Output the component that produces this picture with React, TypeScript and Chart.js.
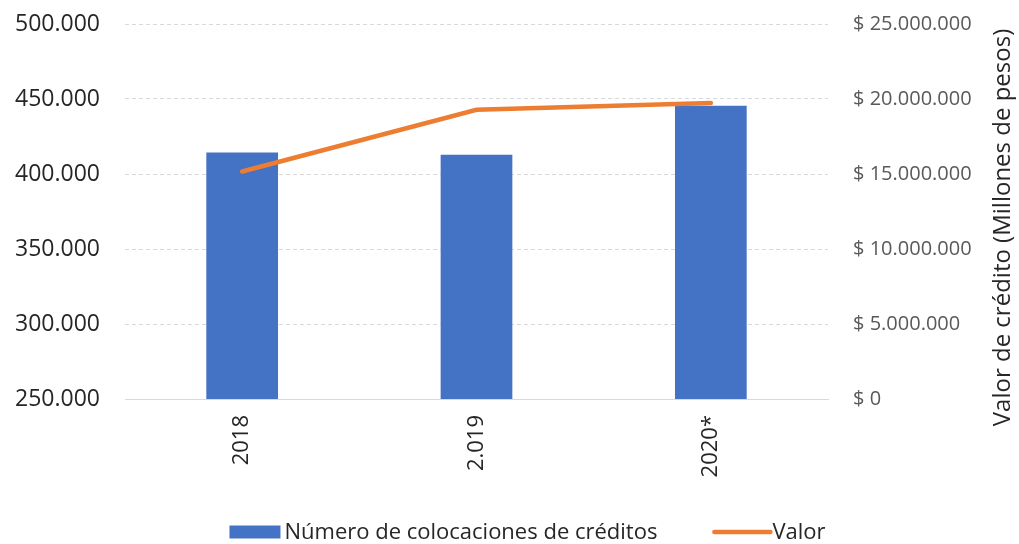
import React, { useEffect, useRef } from 'react';
import { Chart, registerables } from 'chart.js';

Chart.register(...registerables);

const categories: string[] = ['2018', '2.019', '2020*'];
const colocaciones: number[] = [414400, 412900, 445500];
const valor: number[] = [15170000, 19280000, 19730000];
const leftMin = 250000;
const leftMax = 500000;
const leftStep = 50000;
const rightMin = 0;
const rightMax = 25000000;
const rightStep = 5000000;
const barLabel = 'Número de colocaciones de créditos';
const lineLabel = 'Valor';
const rightTitle = 'Valor de crédito (Millones de pesos)';

const BLUE = '#4472C4';
const ORANGE = '#ED7D31';
const FONT = "'Open Sans', 'Noto Sans', sans-serif";
const TEXT = '#262626';

function fmt(n: number): string {
  return Math.round(n).toString().replace(/\B(?=(\d{3})+(?!\d))/g, '.');
}

const rightTitlePlugin = {
  id: 'rightTitle',
  afterDraw(chart: any) {
    const { ctx, chartArea } = chart;
    ctx.save();
    ctx.font = `24px ${FONT}`;
    ctx.fillStyle = TEXT;
    ctx.textAlign = 'center';
    ctx.textBaseline = 'middle';
    ctx.translate(chart.width - 16, (chartArea.top + chartArea.bottom) / 2 + 16);
    ctx.rotate(-Math.PI / 2);
    ctx.fillText(rightTitle, 0, 0);
    ctx.restore();
  },
};

// Excel-style legend: filled box for the bars, short thick line for the line series
const excelLegendPlugin = {
  id: 'excelLegend',
  afterDraw(chart: any) {
    const { ctx } = chart;
    const ds = chart.data.datasets;
    const bar = ds.find((d: any) => d.type === 'bar');
    const line = ds.find((d: any) => d.type === 'line');
    ctx.save();
    ctx.font = `22px ${FONT}`;
    ctx.textBaseline = 'middle';
    const boxW = 51, boxH = 13, lineW = 56, gapText = 4, gapItems = 57;
    const w1 = ctx.measureText(bar.label).width;
    const w2 = ctx.measureText(line.label).width;
    const total = boxW + gapText + w1 + gapItems + lineW + 2 + w2;
    const cx = chart.width / 2 + 18;
    const cy = chart.height - 12;
    let x = cx - total / 2;
    ctx.fillStyle = bar.backgroundColor;
    ctx.fillRect(x, cy - boxH / 2, boxW, boxH);
    x += boxW + gapText;
    ctx.fillStyle = TEXT;
    ctx.fillText(bar.label, x, cy + 1);
    x += w1 + gapItems;
    ctx.strokeStyle = line.borderColor;
    ctx.lineWidth = line.borderWidth;
    ctx.lineCap = 'round';
    ctx.beginPath();
    ctx.moveTo(x, cy);
    ctx.lineTo(x + lineW, cy);
    ctx.stroke();
    x += lineW + 2;
    ctx.fillText(line.label, x, cy + 1);
    ctx.restore();
  },
};

export default function App() {
  const ref = useRef<HTMLCanvasElement | null>(null);
  useEffect(() => {
    document.body.style.margin = '0';
    if (!ref.current) return;
    const chart = new Chart(ref.current, {
      type: 'bar',
      data: {
        labels: categories,
        datasets: [
          {
            type: 'line',
            label: lineLabel,
            data: valor,
            yAxisID: 'y1',
            borderColor: ORANGE,
            backgroundColor: ORANGE,
            borderWidth: 4.5,
            pointRadius: 0,
            tension: 0,
            borderCapStyle: 'round',
            order: 0,
          } as any,
          {
            type: 'bar',
            label: barLabel,
            data: colocaciones,
            yAxisID: 'y',
            backgroundColor: BLUE,
            borderWidth: 0,
            categoryPercentage: 1,
            barPercentage: 0.306,
            order: 1,
          },
        ],
      },
      options: {
        animation: false,
        responsive: true,
        maintainAspectRatio: false,
        layout: { padding: { left: 0, right: 0, top: 24, bottom: 0 } },
        plugins: {
          tooltip: { enabled: false },
          legend: { display: false },
        },
        scales: {
          x: {
            grid: { display: false, drawTicks: false },
            border: { display: true, color: '#d9d9d9', width: 1 },
            ticks: {
              font: { family: FONT, size: 22 },
              color: TEXT,
              maxRotation: 90,
              minRotation: 90,
              padding: 16,
            },
            afterFit: (s: any) => {
              s.height = 145;
              s.paddingLeft = 0;
              s.paddingRight = 0;
            },
          },
          y: {
            position: 'left',
            min: leftMin,
            max: leftMax,
            grid: { color: '#d9d9d9', drawTicks: false },
            border: { display: false, dash: [4, 3] },
            ticks: {
              stepSize: leftStep,
              font: { family: FONT, size: 23 },
              color: TEXT,
              padding: 25,
              callback: (v: any) => fmt(Number(v)),
            },
            afterFit: (s: any) => {
              s.width = 125;
              s.paddingTop = 0;
              s.paddingBottom = 0;
            },
          },
          y1: {
            position: 'right',
            min: rightMin,
            max: rightMax,
            grid: { display: false, drawTicks: false },
            border: { display: false },
            ticks: {
              stepSize: rightStep,
              font: { family: FONT, size: 20 },
              color: '#595959',
              padding: 25,
              callback: (v: any) => '$ ' + fmt(Number(v)),
            },
            afterFit: (s: any) => {
              s.width = 191;
              s.paddingTop = 0;
              s.paddingBottom = 0;
            },
          },
        },
      },
      plugins: [rightTitlePlugin, excelLegendPlugin],
    });
    return () => chart.destroy();
  }, []);
  return (
    <div style={{ width: 1019, height: 544, position: 'relative' }}>
      <canvas ref={ref} />
    </div>
  );
}
